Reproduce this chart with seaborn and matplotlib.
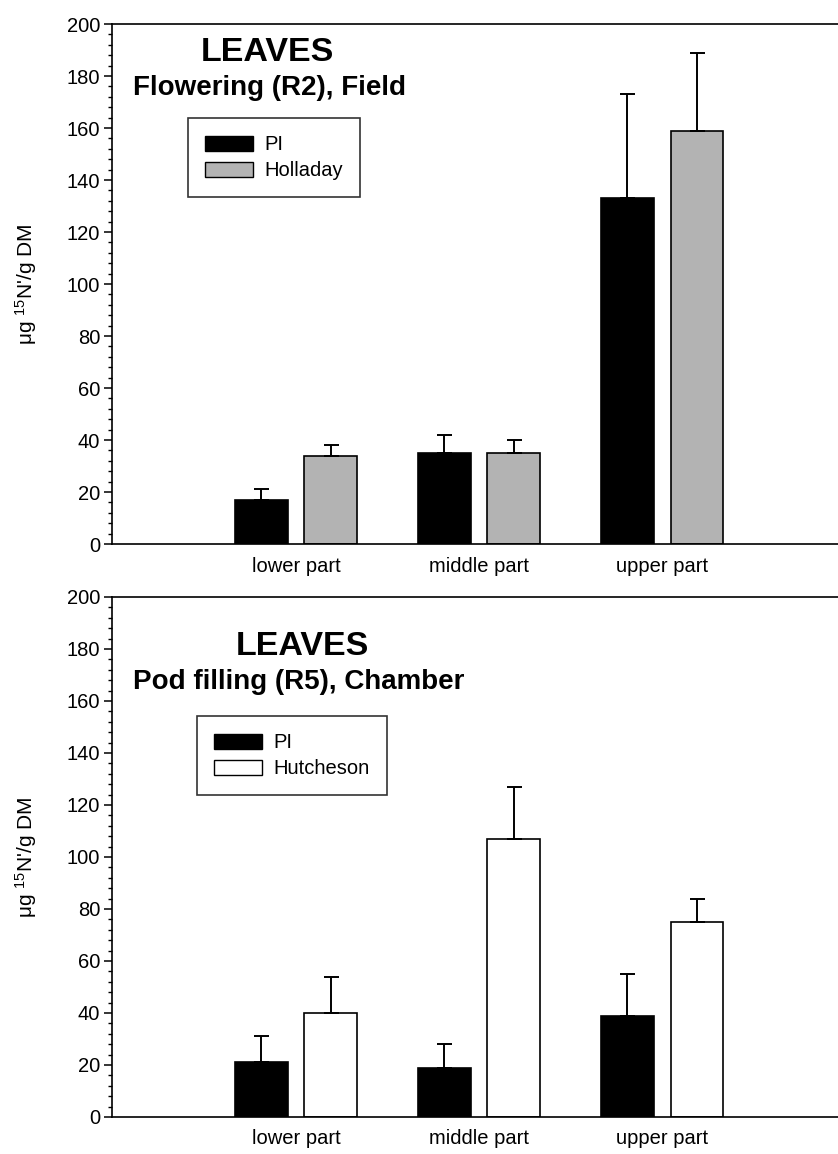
import numpy as np
import pandas as pd
import matplotlib
matplotlib.use("Agg")
import matplotlib.pyplot as plt
from matplotlib.patches import Patch
from matplotlib.ticker import MultipleLocator
import seaborn as sns

# ---------------- data ----------------
parts = ["lower part", "middle part", "upper part"]
order = [""] + parts  # empty first slot on the x axis

top_varieties = ["PI", "Holladay"]
top_pi = [17, 35, 133]
top_pi_err = [4, 7, 40]
top_hol = [34, 35, 159]
top_hol_err = [4, 5, 30]

bot_varieties = ["PI", "Hutcheson"]
bot_pi = [21, 19, 39]
bot_pi_err = [10, 9, 16]
bot_hut = [40, 107, 75]
bot_hut_err = [14, 20, 9]

y_ticks = [0, 20, 40, 60, 80, 100, 120, 140, 160, 180, 200]
ylabel = "μg $^{15}$N'/g DM"

sns.set_theme(style="ticks")
plt.rcParams["font.family"] = ["Liberation Sans", "DejaVu Sans"]
plt.rcParams["mathtext.fontset"] = "custom"
plt.rcParams["mathtext.rm"] = "Liberation Sans"
plt.rcParams["mathtext.it"] = "Liberation Sans"
plt.rcParams["mathtext.bf"] = "Liberation Sans:bold"
for k in ["text.color", "axes.labelcolor", "xtick.color", "ytick.color", "axes.edgecolor"]:
    plt.rcParams[k] = "black"

W, H = 838, 1154
fig = plt.figure(figsize=(W / 100, H / 100), dpi=100)


def px_axes(left, top, right, bottom):
    return fig.add_axes([left / W, 1 - bottom / H, (right - left) / W, (bottom - top) / H])


def make_df(varieties, a, a_err, b, b_err):
    rows = []
    for p, v, e in zip(parts, a, a_err):
        rows.append(dict(part=p, variety=varieties[0], value=v, err=e))
    for p, v, e in zip(parts, b, b_err):
        rows.append(dict(part=p, variety=varieties[1], value=v, err=e))
    return pd.DataFrame(rows)


def draw_panel(ax, df, varieties, colors, title2, t1x, t1y, t2y, legxy):
    palette = dict(zip(varieties, colors))
    sns.barplot(data=df, x="part", y="value", hue="variety", order=order,
                hue_order=varieties, palette=palette, saturation=1,
                width=0.76, gap=0.24, errorbar=None, edgecolor="black",
                linewidth=1.2, legend=False, ax=ax)
    # error bars (upper only), placed at the bar centres seaborn produced
    for patch in ax.patches:
        h = patch.get_height()
        if not np.isfinite(h) or h == 0:
            continue
        xc = patch.get_x() + patch.get_width() / 2
        idx = int(round(xc))
        hue_i = 0 if xc < idx else 1
        row = df[(df["part"] == order[idx]) & (df["variety"] == varieties[hue_i])].iloc[0]
        ax.errorbar([xc], [row["value"]], yerr=[[0], [row["err"]]], fmt="none",
                    ecolor="black", elinewidth=1.4, capsize=5.4, capthick=1.4,
                    zorder=1)
    ax.set_xlim(-0.005, 3.96)
    ax.set_ylim(0, 200)
    ax.set_yticks(y_ticks)
    ax.yaxis.set_minor_locator(MultipleLocator(4))
    ax.tick_params(axis="y", which="major", length=5.5, width=1.1, labelsize=14.5, direction="out", pad=3)
    ax.tick_params(axis="y", which="minor", length=3, width=1.0, direction="out")
    ax.tick_params(axis="x", length=0, labelsize=14.5, pad=9)
    ax.set_xlabel("")
    ax.set_ylabel(ylabel, fontsize=15)
    ax.yaxis.set_label_coords(-0.1005, 0.5)
    for s in ["left", "bottom", "top"]:
        ax.spines[s].set_visible(True)
        ax.spines[s].set_linewidth(1.2)
        ax.spines[s].set_color("black")
    ax.spines["right"].set_visible(False)
    ax.text(t1x, t1y, "LEAVES", transform=ax.transAxes, ha="center", va="center",
            fontsize=24.5, fontweight="bold")
    ax.text(0.029, t2y, title2, transform=ax.transAxes, ha="left", va="center",
            fontsize=20, fontweight="bold")
    handles = [Patch(facecolor=c, edgecolor="black", linewidth=1.0) for c in colors]
    leg = ax.legend(handles, varieties, loc="upper left", bbox_to_anchor=legxy,
                    borderaxespad=0, frameon=True, fancybox=False, fontsize=14.5,
                    handlelength=2.4, handleheight=0.75, handletextpad=0.55,
                    labelspacing=0.35, borderpad=0.85)
    leg.get_frame().set_edgecolor("black")
    leg.get_frame().set_linewidth(1.2)


ax1 = px_axes(112, 24, 838, 544)
df1 = make_df(top_varieties, top_pi, top_pi_err, top_hol, top_hol_err)
draw_panel(ax1, df1, top_varieties, ["black", "#b3b3b3"], "Flowering (R2), Field",
           0.2135, 0.946, 0.877, (0.1047, 0.819))

ax2 = px_axes(112, 597, 838, 1117)
df2 = make_df(bot_varieties, bot_pi, bot_pi_err, bot_hut, bot_hut_err)
draw_panel(ax2, df2, bot_varieties, ["black", "white"], "Pod filling (R5), Chamber",
           0.2617, 0.904, 0.8365, (0.117, 0.771))

fig.savefig("out.png", dpi=100)
